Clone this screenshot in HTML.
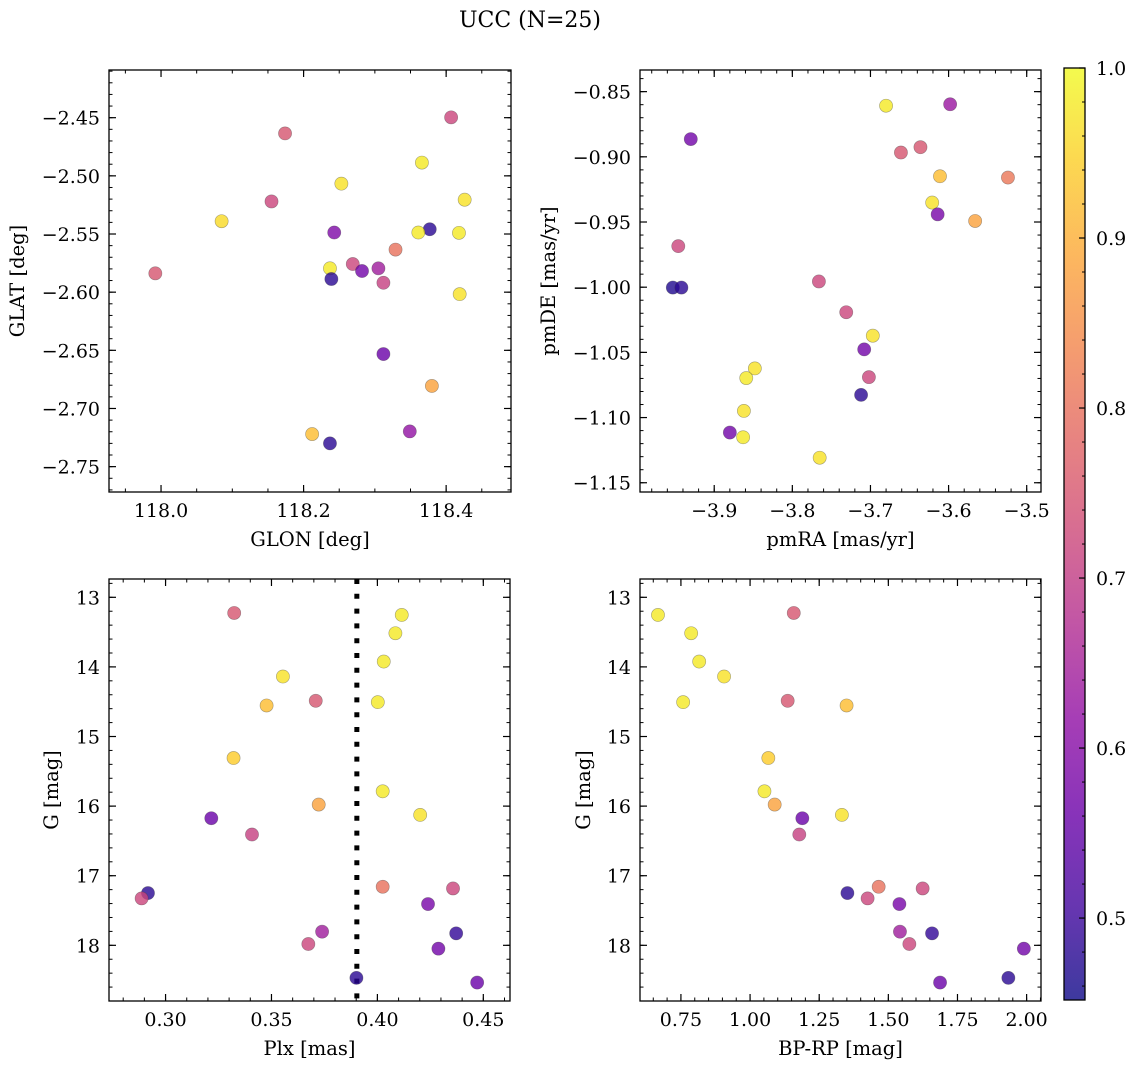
<!DOCTYPE html>
<html><head><meta charset="utf-8"><style>
html,body{margin:0;padding:0;background:#fff;}
svg{display:block;font-family:"DejaVu Serif","Liberation Serif",serif;}
</style></head><body>
<svg id="fig" width="1136" height="1068" viewBox="0 0 1136 1068" xmlns="http://www.w3.org/2000/svg">
<defs>
<linearGradient id="cbgrad" x1="0" y1="1" x2="0" y2="0"></linearGradient>
</defs>
<text x="530" y="27" font-size="22" text-anchor="middle">UCC (N=25)</text>
</svg>
<script>
// ---- Panel 1: GLON / GLAT ----
const glon = [118.407,118.174,118.366,118.253,118.426,118.155,118.085,118.243,118.377,118.361,118.418,118.329,117.992,118.269,118.305,118.282,118.237,118.239,118.312,118.419,118.312,118.380,118.349,118.212,118.237];
const glat = [-2.4497,-2.4635,-2.4886,-2.5067,-2.5205,-2.522,-2.539,-2.5487,-2.5459,-2.5487,-2.549,-2.5634,-2.5838,-2.5758,-2.5795,-2.5818,-2.5795,-2.5887,-2.5919,-2.6017,-2.6532,-2.6806,-2.7197,-2.722,-2.730];
const probTop1 = [0.72,0.75,0.98,0.97,0.97,0.72,0.96,0.59,0.48,0.98,0.98,0.80,0.75,0.72,0.64,0.57,0.98,0.48,0.71,0.97,0.56,0.88,0.62,0.92,0.48];
// ---- Panel 2: pmRA / pmDE ----
const pmra = [-3.680,-3.598,-3.930,-3.661,-3.636,-3.611,-3.524,-3.621,-3.614,-3.566,-3.946,-3.953,-3.942,-3.766,-3.731,-3.697,-3.708,-3.702,-3.712,-3.848,-3.859,-3.862,-3.880,-3.863,-3.765];
const pmde = [-0.8608,-0.8597,-0.8864,-0.8967,-0.8926,-0.9149,-0.9159,-0.9351,-0.9441,-0.9492,-0.9685,-1.0003,-1.0003,-0.9956,-1.0192,-1.0372,-1.0477,-1.069,-1.0826,-1.0623,-1.0697,-1.0949,-1.1115,-1.1151,-1.1308];
const probTop2 = [0.98,0.63,0.57,0.75,0.75,0.92,0.81,0.97,0.58,0.88,0.72,0.47,0.48,0.72,0.72,0.97,0.57,0.72,0.48,0.97,0.98,0.97,0.57,0.98,0.97];
// ---- Panels 3,4: Plx, BP-RP vs G ----
const gmag = [13.225,13.253,13.516,13.923,14.138,14.487,14.554,14.506,15.309,15.787,15.978,16.126,16.174,16.408,17.249,17.326,17.159,17.183,17.407,17.804,17.981,17.828,18.048,18.468,18.535];
const plx = [0.3324,0.4115,0.4085,0.4030,0.3554,0.3709,0.3477,0.4002,0.3321,0.4025,0.3723,0.4202,0.3216,0.3408,0.2917,0.2887,0.4025,0.4357,0.4239,0.3739,0.3674,0.4372,0.4288,0.3901,0.4471];
const bprp = [1.158,0.667,0.787,0.816,0.906,1.136,1.349,0.758,1.066,1.052,1.089,1.332,1.189,1.178,1.352,1.425,1.465,1.624,1.540,1.542,1.576,1.658,1.990,1.934,1.687];
const probBot = [0.75,0.98,0.98,0.98,0.97,0.75,0.92,0.98,0.94,0.98,0.88,0.97,0.56,0.71,0.48,0.72,0.80,0.72,0.58,0.64,0.72,0.49,0.57,0.48,0.56];
const plxMedian = [0.3903];
// tick labels
const ticksP1x = ["118.0","118.2","118.4"];
const ticksP1y = ["-2.45","-2.50","-2.55","-2.60","-2.65","-2.70","-2.75"];
const ticksP2x = ["-3.9","-3.8","-3.7","-3.6","-3.5"];
const ticksP2y = ["-0.85","-0.90","-0.95","-1.00","-1.05","-1.10","-1.15"];
const ticksP3x = ["0.30","0.35","0.40","0.45"];
const ticksGy = ["13","14","15","16","17","18"];
const ticksP4x = ["0.75","1.00","1.25","1.50","1.75","2.00"];
const ticksCb = ["0.5","0.6","0.7","0.8","0.9","1.0"];
const cbRange = [0.4518, 1.0];

const NS = "http://www.w3.org/2000/svg";
const svg = document.getElementById('fig');
const plasma = ["#0d0887","#41049d","#6a00a8","#8f0da4","#b12a90","#cc4778","#e16462","#f2844b","#fca636","#fcce25","#f0f921"];
function hex(h){return [parseInt(h.substr(1,2),16),parseInt(h.substr(3,2),16),parseInt(h.substr(5,2),16)];}
function cmap(t){t=Math.max(0,Math.min(1,t));const f=t*10,i=Math.min(9,Math.floor(f)),r=f-i;const a=hex(plasma[i]),b=hex(plasma[i+1]);
 return "rgb("+a.map((v,k)=>Math.round(v+(b[k]-v)*r)).join(",")+")";}
function norm(p){return (p-cbRange[0])/(cbRange[1]-cbRange[0]);}
function el(tag,attrs,parent){const e=document.createElementNS(NS,tag);for(const k in attrs)e.setAttribute(k,attrs[k]);(parent||svg).appendChild(e);return e;}
function fmt(s){return s.replace("-","\u2212");}
const TICK_FS=19, LABEL_FS=19.5;

function panel(cfg){
  const g=el('g',{});
  
  
  const [x0,x1,y0,y1]=cfg.box;
  const sx=v=>x0+(v-cfg.xr[0])/(cfg.xr[1]-cfg.xr[0])*(x1-x0);
  const sy=cfg.invert? (v=>y0+(v-cfg.yr[0])/(cfg.yr[1]-cfg.yr[0])*(y1-y0)) : (v=>y1-(v-cfg.yr[0])/(cfg.yr[1]-cfg.yr[0])*(y1-y0));
  if(cfg.vline!==undefined){
    const l=el('line',{x1:sx(cfg.vline),x2:sx(cfg.vline),y1:y0,y2:y1,stroke:'#000','stroke-width':5,'stroke-dasharray':'5 9.8'},g);
    
    
  }
  for(let i=0;i<cfg.xs.length;i++){
    const c=el('circle',{cx:sx(cfg.xs[i]),cy:sy(cfg.ys[i]),r:6.6,fill:cmap(norm(cfg.ps[i])),'fill-opacity':0.8,stroke:'rgba(60,60,60,0.45)','stroke-width':0.6},g);
    
    
  }
  const fr=el('rect',{x:x0,y:y0,width:x1-x0,height:y1-y0,fill:'none',stroke:'#000','stroke-width':1.3},g);
  
  
  const mx=cfg.xminor, my=cfg.yminor;
  for(let v=Math.ceil(cfg.xr[0]/mx)*mx; v<=cfg.xr[1]; v+=mx){const X=sx(v);
    el('line',{x1:X,x2:X,y1:y1,y2:y1-3.5,stroke:'#000','stroke-width':1},g);el('line',{x1:X,x2:X,y1:y0,y2:y0+3.5,stroke:'#000','stroke-width':1},g);}
  for(let v=Math.ceil(cfg.yr[0]/my)*my; v<=cfg.yr[1]; v+=my){const Y=sy(v);
    el('line',{x1:x0,x2:x0+3.5,y1:Y,y2:Y,stroke:'#000','stroke-width':1},g);el('line',{x1:x1,x2:x1-3.5,y1:Y,y2:Y,stroke:'#000','stroke-width':1},g);}
  cfg.xt.forEach(s=>{const X=sx(parseFloat(s));
    el('line',{x1:X,x2:X,y1:y1,y2:y1-7,stroke:'#000','stroke-width':1.2},g);el('line',{x1:X,x2:X,y1:y0,y2:y0+7,stroke:'#000','stroke-width':1.2},g);
    const t=el('text',{x:X,y:y1+25,'font-size':TICK_FS,'text-anchor':'middle'},g);t.textContent=fmt(s);
    
    });
  cfg.yt.forEach(s=>{const Y=sy(parseFloat(s));
    el('line',{x1:x0,x2:x0+7,y1:Y,y2:Y,stroke:'#000','stroke-width':1.2},g);el('line',{x1:x1,x2:x1-7,y1:Y,y2:Y,stroke:'#000','stroke-width':1.2},g);
    const t=el('text',{x:x0-9,y:Y+7,'font-size':TICK_FS,'text-anchor':'end'},g);t.textContent=fmt(s);
    
    });
  const xl=el('text',{x:(x0+x1)/2,y:y1+54,'font-size':LABEL_FS,'text-anchor':'middle'},g);xl.textContent=cfg.xlabel;
  
  
  const yl=el('text',{x:0,y:0,'font-size':LABEL_FS,'text-anchor':'middle',transform:`translate(${cfg.ylx},${(y0+y1)/2}) rotate(-90)`},g);yl.textContent=cfg.ylabel;
  
  
}

panel({name:'glon-glat-panel',box:[109,511,70,492],xr:[117.927,118.491],yr:[-2.7718,-2.409],xs:glon,ys:glat,ps:probTop1,xt:ticksP1x,yt:ticksP1y,xminor:0.05,yminor:0.01,xlabel:'GLON [deg]',ylabel:'GLAT [deg]',ylx:24});
panel({name:'pm-panel',box:[640,1041,70,492],xr:[-3.995,-3.4817],yr:[-1.1571,-0.8334],xs:pmra,ys:pmde,ps:probTop2,xt:ticksP2x,yt:ticksP2y,xminor:0.02,yminor:0.01,xlabel:'pmRA [mas/yr]',ylabel:'pmDE [mas/yr]',ylx:555});
panel({name:'plx-g-panel',box:[109,510,579,1001],xr:[0.2733,0.4626],yr:[12.737,18.80],invert:true,xs:plx,ys:gmag,ps:probBot,xt:ticksP3x,yt:ticksGy,xminor:0.01,yminor:0.2,xlabel:'Plx [mas]',ylabel:'G [mag]',ylx:58,vline:plxMedian[0]});
panel({name:'cmd-panel',box:[640,1041,579,1001],xr:[0.602,2.052],yr:[12.737,18.80],invert:true,xs:bprp,ys:gmag,ps:probBot,xt:ticksP4x,yt:ticksGy,xminor:0.05,yminor:0.2,xlabel:'BP-RP [mag]',ylabel:'G [mag]',ylx:590});

const grad=document.getElementById('cbgrad');
for(let i=0;i<=20;i++){el('stop',{offset:(i/20),'stop-color':cmap(i/20),'stop-opacity':0.8},grad);}
const cb=el('g',{});


const cbx0=1064,cbx1=1085,cby0=68,cby1=1000;
el('rect',{x:cbx0,y:cby0,width:cbx1-cbx0,height:cby1-cby0,fill:'url(#cbgrad)',stroke:'#000','stroke-width':1.3},cb);
const cy=v=>cby1-(v-cbRange[0])/(cbRange[1]-cbRange[0])*(cby1-cby0);
for(let v=0.46; v<=1.0001; v+=0.02){el('line',{x1:cbx1,x2:cbx1-3,y1:cy(v),y2:cy(v),stroke:'#000','stroke-width':1},cb);}
ticksCb.forEach(s=>{const Y=cy(parseFloat(s));
  el('line',{x1:cbx1,x2:cbx1-6,y1:Y,y2:Y,stroke:'#000','stroke-width':1.2},cb);
  const t=el('text',{x:1096,y:Y+7,'font-size':TICK_FS},cb);t.textContent=s;
  
  });
</script>
</body></html>
